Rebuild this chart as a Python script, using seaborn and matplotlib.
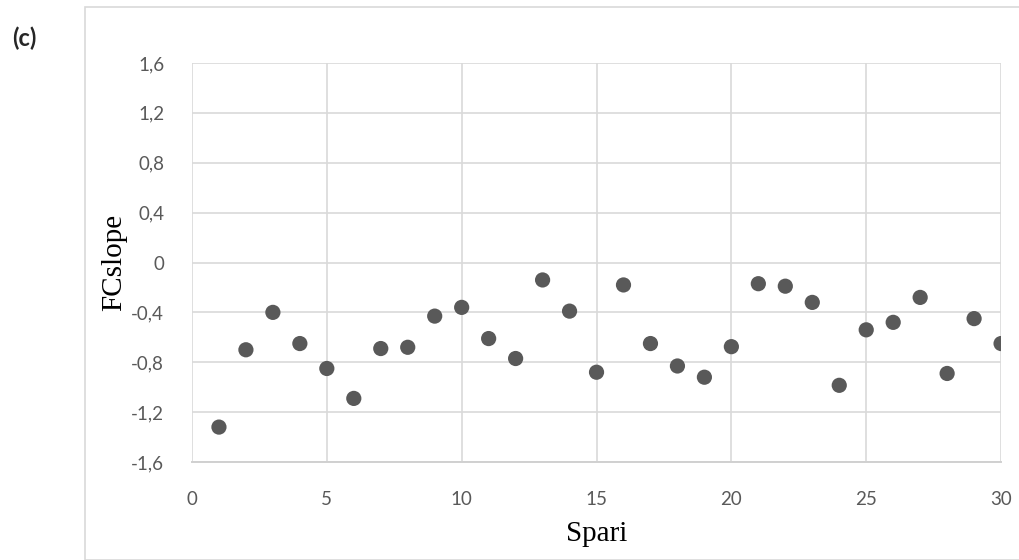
import matplotlib
matplotlib.use("Agg")
import matplotlib.pyplot as plt
import seaborn as sns
import pandas as pd
from matplotlib.patches import Rectangle

spari = list(range(1, 31))
fcslope = [-1.32, -0.70, -0.40, -0.65, -0.85, -1.09, -0.69, -0.68, -0.43, -0.36,
           -0.61, -0.77, -0.14, -0.39, -0.88, -0.18, -0.65, -0.83, -0.92, -0.675,
           -0.17, -0.19, -0.32, -0.985, -0.54, -0.48, -0.28, -0.89, -0.45, -0.65]
x_ticks = [0, 5, 10, 15, 20, 25, 30]
y_ticks = [-1.6, -1.2, -0.8, -0.4, 0, 0.4, 0.8, 1.2, 1.6]
y_labels = ["-1,6", "-1,2", "-0,8", "-0,4", "0", "0,4", "0,8", "1,2", "1,6"]

df = pd.DataFrame({"Spari": spari, "FCslope": fcslope})

sns.set_style("white")
plt.rcParams["font.family"] = ["Lato", "DejaVu Sans"]

fig = plt.figure(figsize=(10.19, 5.6), dpi=100)
ax = fig.add_axes([0.1884, 0.175, 0.794, 0.7125])

# outer chart border
fig.patches.append(Rectangle((85 / 1019, 0.0), 1.0, 1 - 7 / 560, transform=fig.transFigure,
                             fill=False, edgecolor="#d9d9d9", linewidth=1.2, zorder=0))

sns.scatterplot(data=df, x="Spari", y="FCslope", ax=ax, color="#595959",
                s=120, edgecolor="none", zorder=3, legend=False)

ax.set_xlim(0, 30)
ax.set_ylim(-1.6, 1.6)
ax.set_xticks(x_ticks)
ax.set_xticklabels([str(t) for t in x_ticks])
ax.set_yticks(y_ticks)
ax.set_yticklabels(y_labels)
ax.grid(True, color="#d9d9d9", linewidth=1.2)
ax.set_axisbelow(True)
for sp in ax.spines.values():
    sp.set_visible(False)
ax.spines["bottom"].set_visible(True)
ax.spines["bottom"].set_color("#d0d0d0")
ax.spines["bottom"].set_linewidth(1.4)
ax.tick_params(axis="both", length=0, labelsize=13.5, labelcolor="#595959")
ax.tick_params(axis="y", pad=20)
ax.tick_params(axis="x", pad=21)

ax.set_xlabel("Spari", fontfamily="Liberation Serif", fontsize=21, color="black", labelpad=9)
ax.set_ylabel("FCslope", fontfamily="Liberation Serif", fontsize=21, color="black", labelpad=3)

fig.text(12 / 1019, 1 - 38 / 560, "(c)", fontsize=17, fontweight="bold", va="center", ha="left")

fig.savefig("out.png", dpi=100)
